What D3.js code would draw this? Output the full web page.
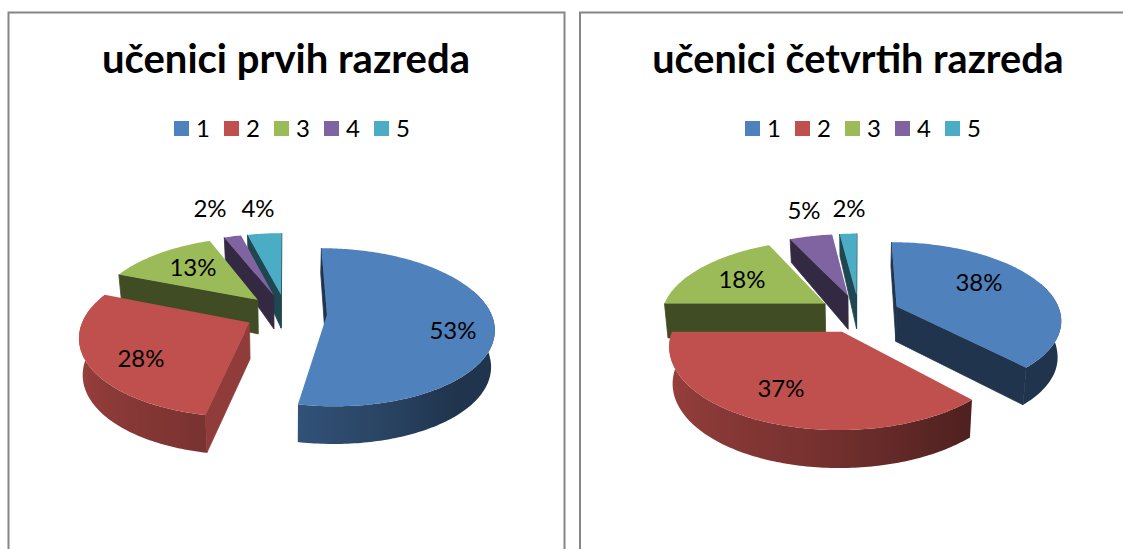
<!DOCTYPE html>
<html><head><meta charset="utf-8">
<script src="https://cdn.jsdelivr.net/npm/d3@7"></script>
<style>html,body{margin:0;padding:0;background:#fff;overflow:hidden}svg{display:block}text{font-family:Lato,"Noto Sans",sans-serif;fill:#000}</style>
</head><body><svg id="c" width="1123" height="549"></svg>
<script>
// ---- data ----
const categories = ["1","2","3","4","5"];
const firstGrade = [53,28,13,2,4];
const fourthGrade = [38,37,18,5,2];
const titles = ["učenici prvih razreda","učenici četvrtih razreda"];
const colors = ["#4f81bd","#c0504d","#9bbb59","#8064a2","#4bacc6"];

// ---- layout ----
const panels = [
  {values:firstGrade, title:titles[0], frame:[8.5,12.5,556,560], cx:286, cy:313, titleX:286, titleSize:40, legendX:174,
   labels:[[453,331],[141,359],[193,268],[210,209],[258,209]]},
  {values:fourthGrade, title:titles[1], frame:[580,12.5,560,560], cx:859, cy:313.5, titleX:858, titleSize:39.6, legendX:745,
   labels:[[979,283],[781,389],[742,280],[804,211],[849,209]]}
];
const Rx=164, Ry=76.5, persp=.157, explode=.25;
const wallDepth = d3.scaleLinear().domain([-1.25,-.1,.3,.8,1.25]).range([38,36.5,33,27,22]).clamp(true);
const wallShade = d3.scaleLinear().domain([0,140,190,270,360]).range([.41,.41,.63,.85,.85]);
const radialShade = .41;

const svg = d3.select("#c");
const defs = svg.append("defs");
const pie = d3.pie().sort(null).startAngle(0).endAngle(2*Math.PI);
const line = d3.line();
const shade = (c,k)=>{const r=d3.rgb(c);return d3.rgb(r.r*k,r.g*k,r.b*k).formatHex();};
const RAD = Math.PI/180;

panels.forEach((p,pi)=>{
  const g = svg.append("g");
  g.append("rect").attr("x",p.frame[0]).attr("y",p.frame[1]).attr("width",p.frame[2]).attr("height",p.frame[3])
    .attr("fill","#fff").attr("stroke","#868686").attr("stroke-width",2);
  g.append("text").attr("x",p.titleX).attr("y",73).attr("text-anchor","middle")
    .attr("font-size",p.titleSize).attr("font-weight",700).text(p.title);

  const lx = d3.scalePoint().domain(categories).range([p.legendX,p.legendX+200]);
  categories.forEach((c,i)=>{
    g.append("rect").attr("x",lx(c)).attr("y",121).attr("width",15).attr("height",15).attr("fill",colors[i]);
    g.append("text").attr("x",lx(c)+22).attr("y",137).attr("font-size",24).text(c);
  });

  const xs = d3.scaleLinear().domain([0,1]).range([0,Rx]);
  const ys = d3.scaleLinear().domain([0,1]).range([0,Ry]);
  const project = (X,Y)=>{
    const s = 1/(1+persp*Y);
    return [p.cx+xs(X)*s, p.cy-ys(Y)*s];
  };
  const arcs = pie(p.values).map((a,i)=>{
    const mid=(a.startAngle+a.endAngle)/2;
    return {...a,i,mid,ox:explode*Math.sin(mid),oy:explode*Math.cos(mid)};
  }).sort((a,b)=>b.oy-a.oy);

  arcs.forEach(a=>{
    const col = colors[a.i];
    const W = t=>[a.ox+(t===null?0:Math.sin(t)), a.oy+(t===null?0:Math.cos(t))];
    const top = t=>{const w=W(t);return project(w[0],w[1]);};
    const bot = t=>{const w=W(t),q=project(w[0],w[1]);
      return [p.cx+(q[0]-p.cx)*.982, q[1]+wallDepth(w[1])];};
    const n = Math.max(2,Math.ceil((a.endAngle-a.startAngle)/RAD));
    const ts = d3.range(n+1).map(k=>a.startAngle+(a.endAngle-a.startAngle)*k/n);
    const M = top(a.mid), A = top(null);

    // radial cut faces: drawn only when the face looks towards the viewer
    [a.startAngle,a.endAngle].forEach(t=>{
      const P = top(t);
      let dx=P[0]-A[0], dy=P[1]-A[1];
      if(dx<0){dx=-dx;dy=-dy;}
      if(dx*(M[1]-A[1])-dy*(M[0]-A[0]) >= 0) return;
      const f = shade(col,a.i===1?.75:radialShade);
      g.append("path").attr("d",line([A,P,bot(t),bot(null)])+"Z").attr("fill",f)
        .attr("stroke",f).attr("stroke-width",.8);
    });

    // outer rim wall: only slices that reach the front half, shaded by facing angle
    const rim = a.mid < 270*RAD ? ts.filter(t=>t>=70*RAD && t<=282*RAD) : [];
    if(rim.length>1){
      const xsRim = rim.map(t=>top(t)[0]);
      const xMin=d3.min(xsRim), xMax=d3.max(xsRim);
      const id=`wall-${pi}-${a.i}`;
      const grad=defs.append("linearGradient").attr("id",id).attr("gradientUnits","userSpaceOnUse")
        .attr("x1",xMin).attr("x2",xMax).attr("y1",0).attr("y2",0);
      const off=d3.scaleLinear().domain([xMin,xMax]).range([0,1]);
      rim.filter(t=>t>=90*RAD && t<=270*RAD).slice().reverse().forEach(t=>{
        grad.append("stop").attr("offset",off(top(t)[0])).attr("stop-color",shade(col,wallShade(t/RAD)));
      });
      g.append("path").attr("d",line([...rim.map(top),...rim.slice().reverse().map(bot)])+"Z")
        .attr("fill",`url(#${id})`);
    }

    // top face
    g.append("path").attr("d",line([A,...ts.map(top)])+"Z").attr("fill",col);
  });

  p.values.forEach((v,i)=>{
    g.append("text").attr("x",p.labels[i][0]).attr("y",p.labels[i][1]+8).attr("text-anchor","middle")
      .attr("font-size",24).text(v+"%");
  });
});
</script></body></html>
